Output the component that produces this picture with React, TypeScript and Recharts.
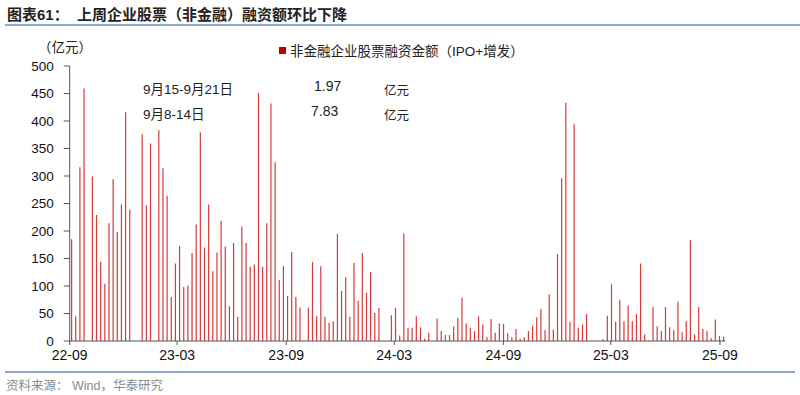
import { Bar, BarChart, XAxis, YAxis } from 'recharts'

// weekly financing, 100m yuan, one value per week starting Monday 2022-09-05
const firstWeek = '2022-09-05'
const weeklyAmount = [
  185, 45, 316, 459, 0, 299, 229, 144, 104, 214,
  294, 198, 248, 416, 239, 0, 0, 376, 247, 359,
  0, 383, 314, 264, 80, 141, 173, 98, 101, 160,
  212, 379, 170, 248, 127, 161, 218, 172, 63, 178,
  44, 208, 178, 135, 139, 451, 135, 214, 432, 325,
  111, 136, 82, 162, 80, 61, 0, 61, 144, 45,
  136, 44, 33, 36, 195, 91, 116, 44, 142, 73,
  160, 88, 125, 51, 60, 0, 0, 47, 60, 10,
  196, 24, 24, 45, 25, 4, 15, 0, 41, 18,
  11, 11, 27, 42, 79, 32, 24, 18, 45, 30,
  7, 40, 15, 32, 31, 14, 7, 22, 4, 7,
  18, 28, 43, 58, 20, 85, 21, 158, 296, 433,
  35, 395, 24, 30, 49, 0, 0.5, 0, 3, 46,
  103, 35, 75, 36, 65, 36, 49, 141, 12, 1,
  62, 27, 18, 62, 25, 20, 72, 16, 36, 183,
  12, 62, 22, 18, 5, 39, 9, 7.83,
]
const xTickLabels = ['22-09', '23-03', '23-09', '24-03', '24-09', '25-03', '25-09']
const yTicks = [0, 50, 100, 150, 200, 250, 300, 350, 400, 450, 500]

const seriesName = '非金融企业股票融资金额（IPO+增发）'
const noteRows = [
  { period: '9月15-9月21日', amount: '1.97' },
  { period: '9月8-14日', amount: '7.83' },
]

const DAY = 86400000
const origin = Date.UTC(2022, 8, 1)
const startMs = Date.parse(firstWeek + 'T00:00:00Z')

const data = weeklyAmount.map((v, i) => ({
  x: (startMs + i * 7 * DAY - origin) / DAY,
  v,
}))

const tickDays = xTickLabels.map((l) => {
  const [yy, mm] = l.split('-').map(Number)
  return (Date.UTC(2000 + yy, mm - 1, 1) - origin) / DAY
})
const labelByDay = new Map(tickDays.map((d, i) => [d, xTickLabels[i]]))

const FONT = '"Liberation Sans", Arial, "Noto Sans CJK SC", sans-serif'
const RED = '#d63a3a'
const AXIS = '#555'
const RULE = '#8eaacb'

export default function App() {
  return (
    <div
      style={{
        position: 'absolute',
        left: 0,
        top: 0,
        width: 800,
        height: 395,
        background: '#fff',
        fontFamily: FONT,
        color: '#222',
      }}
    >
      <div style={{ position: 'absolute', left: 7, top: 3, fontSize: 15, fontWeight: 'bold', whiteSpace: 'nowrap' }}>
        图表61：&nbsp;&nbsp;上周企业股票（非金融）融资额环比下降
      </div>
      <div style={{ position: 'absolute', left: 5, right: 0, top: 24, height: 1.5, background: RULE }} />

      <div style={{ position: 'absolute', left: 38, top: 36, fontSize: 13.5 }}>（亿元）</div>

      <div
        style={{
          position: 'absolute',
          left: 279,
          top: 40,
          display: 'flex',
          alignItems: 'center',
          fontSize: 13.5,
          whiteSpace: 'nowrap',
        }}
      >
        <span style={{ width: 7, height: 7, background: '#c00000', marginRight: 4 }} />
        {seriesName}
      </div>

      {noteRows.map((r, i) => (
        <div key={r.period} style={{ position: 'absolute', top: 78 + i * 25, left: 0, fontSize: 13.5 }}>
          <span style={{ position: 'absolute', left: 143, whiteSpace: 'nowrap' }}>{r.period}</span>
          <span style={{ position: 'absolute', left: i === 0 ? 314 : 311, fontSize: 14 }}>{r.amount}</span>
          <span style={{ position: 'absolute', left: 384, top: 2, fontSize: 12.5, whiteSpace: 'nowrap' }}>亿元</span>
        </div>
      ))}

      <div style={{ position: 'absolute', left: 0, top: 0 }}>
        <BarChart
          width={800}
          height={395}
          data={data}
          margin={{ top: 66, right: 74.7, left: 19.7, bottom: 34 }}
        >
          <XAxis
            type="number"
            dataKey="x"
            domain={[0, 1105]}
            ticks={tickDays}
            tickFormatter={(d: number) => labelByDay.get(d) ?? ''}
            interval={0}
            height={20}
            tickSize={4}
            tickMargin={5}
            stroke={AXIS}
            tick={{ fill: '#111', fontSize: 14, fontFamily: FONT }}
            allowDataOverflow
          />
          <YAxis
            type="number"
            domain={[0, 500]}
            ticks={yTicks}
            width={50}
            tickSize={6}
            tickMargin={10}
            stroke={AXIS}
            tick={{ fill: '#111', fontSize: 13.5, fontFamily: FONT }}
          />
          <Bar dataKey="v" name={seriesName} fill={RED} barSize={1.2} isAnimationActive={false} />
        </BarChart>
      </div>

      <div style={{ position: 'absolute', left: 5, right: 5, top: 371, height: 1.5, background: RULE }} />
      <div style={{ position: 'absolute', left: 6, top: 375, fontSize: 12.5, color: '#8a8a8a', whiteSpace: 'nowrap' }}>
        资料来源：&nbsp;Wind，华泰研究
      </div>
    </div>
  )
}
